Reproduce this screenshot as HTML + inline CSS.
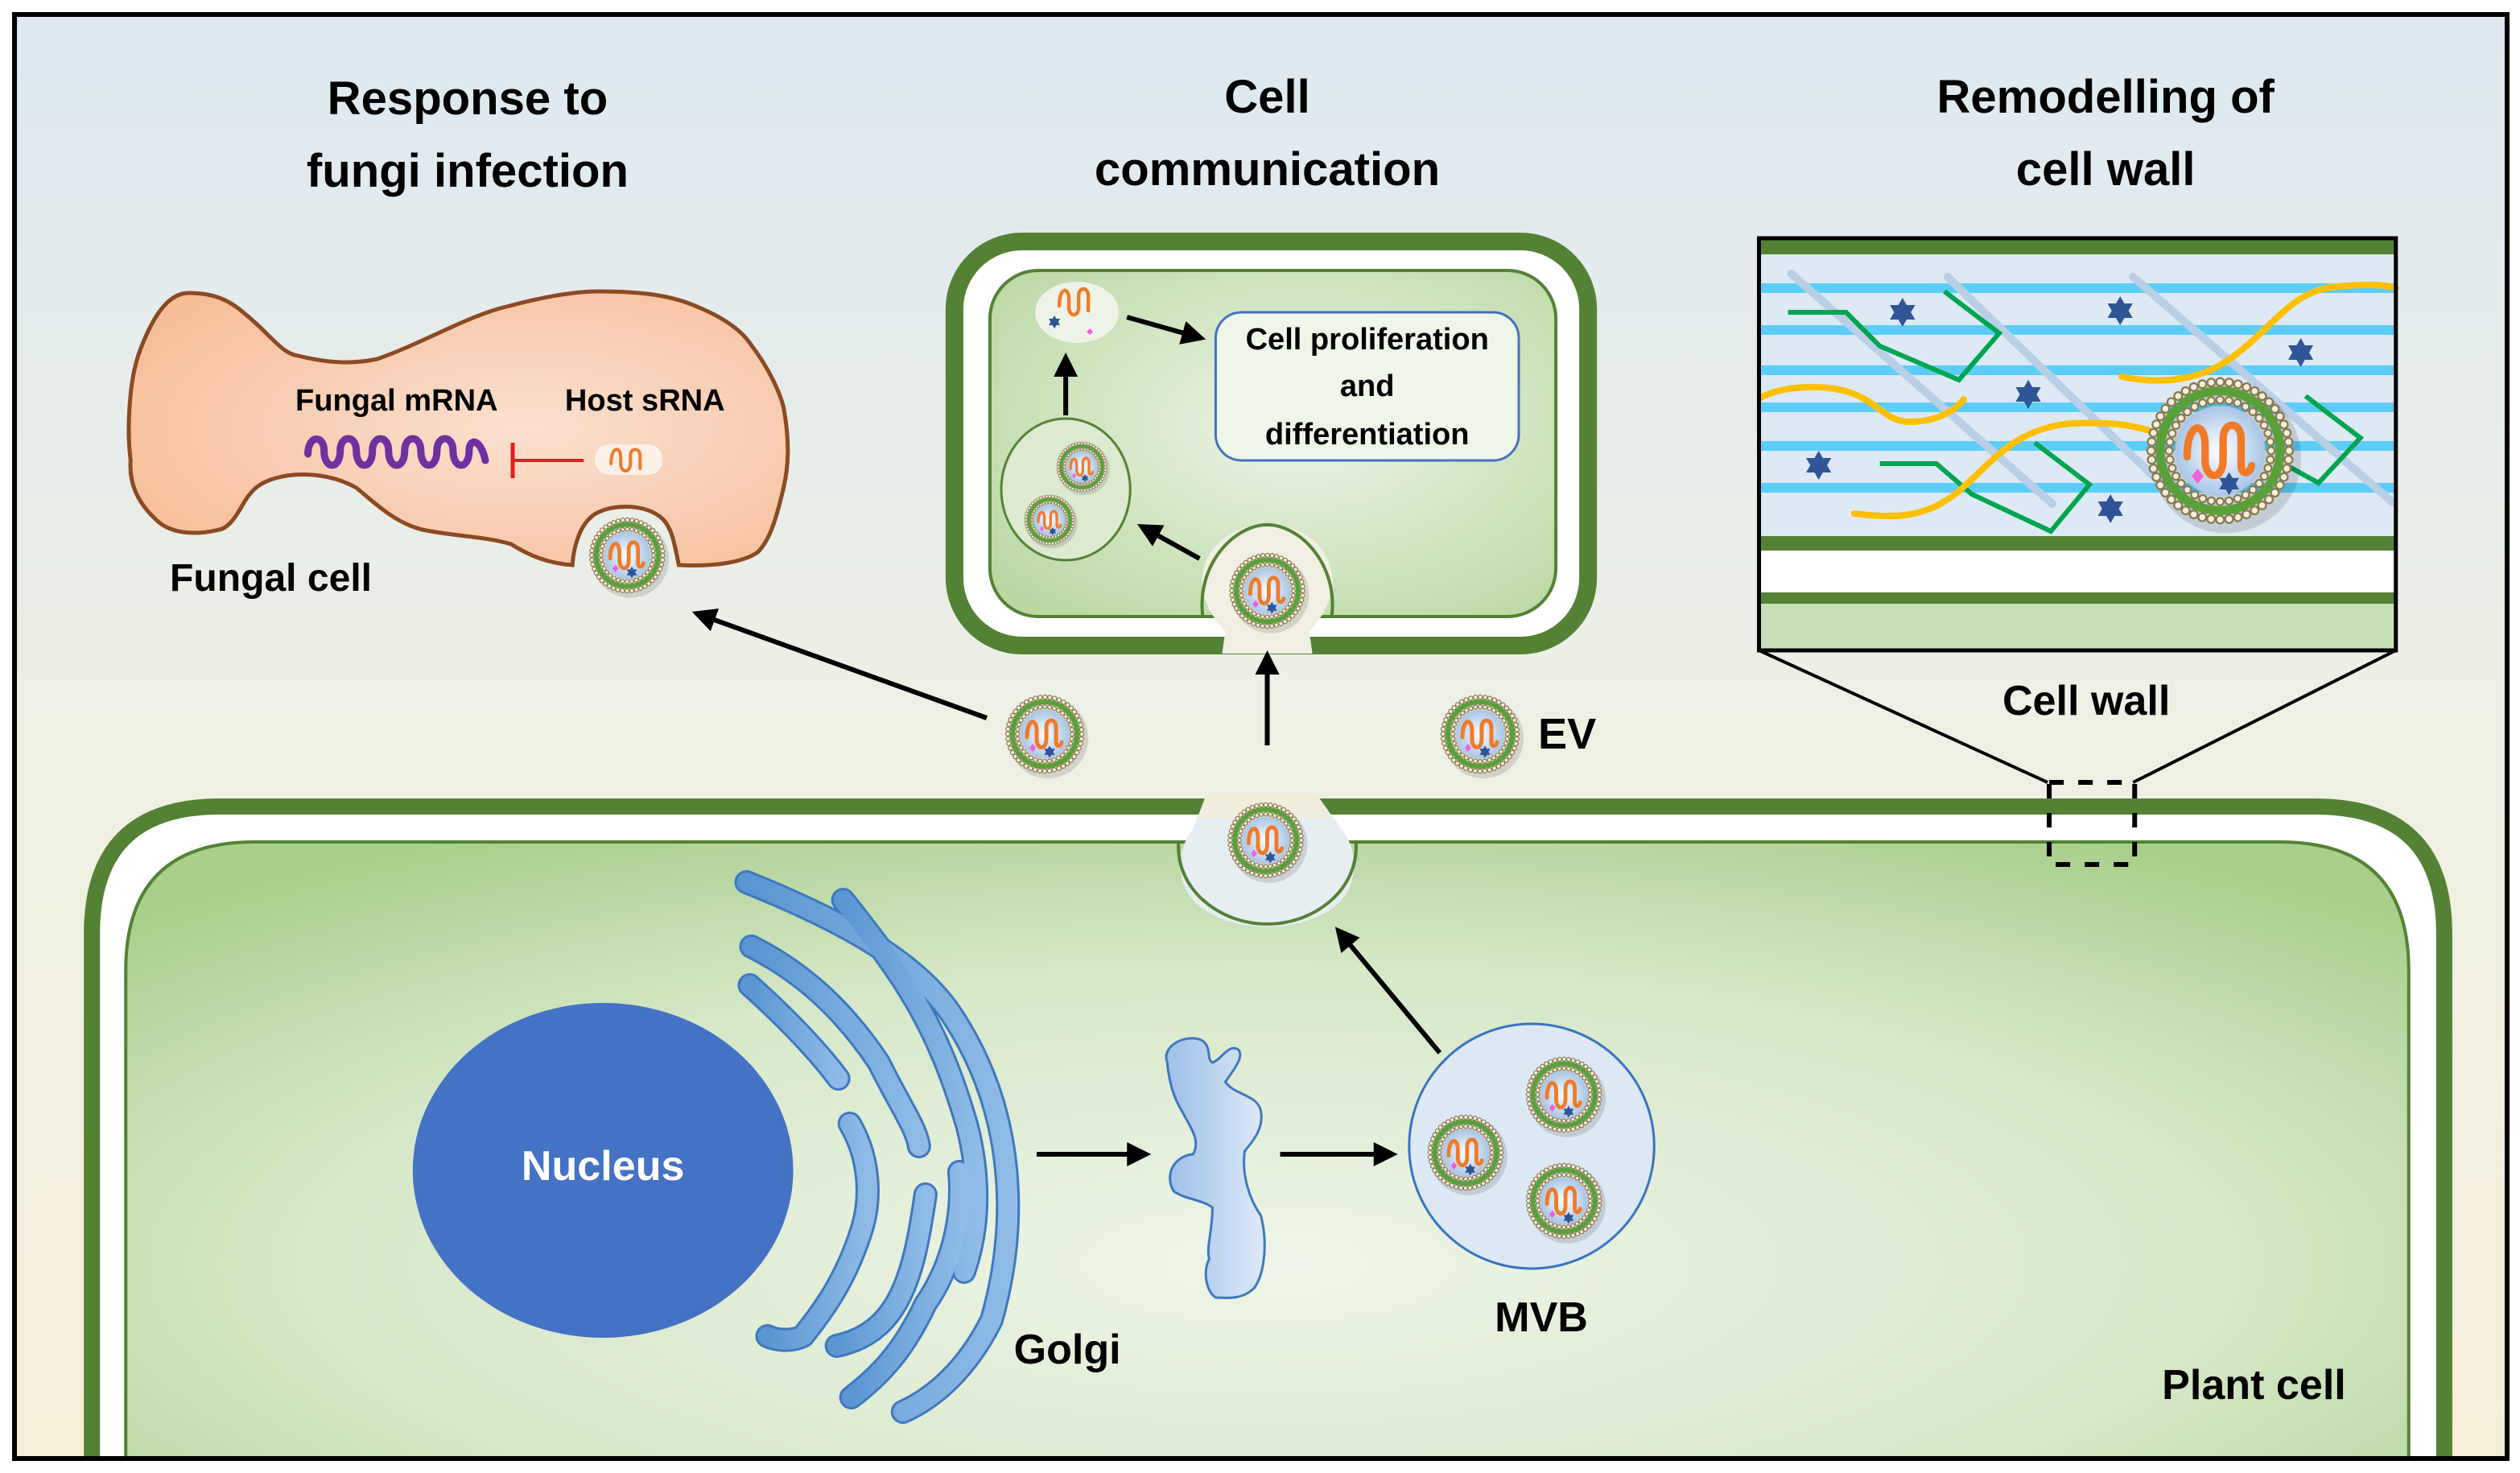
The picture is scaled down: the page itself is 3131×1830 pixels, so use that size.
<!DOCTYPE html>
<html><head><meta charset="utf-8"><style>
html,body{margin:0;padding:0;background:#fff}
svg{display:block}
text{font-family:"Liberation Sans",sans-serif;font-weight:bold;fill:#000}
</style></head><body>
<svg width="3131" height="1830" viewBox="0 0 1563 915" preserveAspectRatio="none" xmlns="http://www.w3.org/2000/svg">
<defs>
<linearGradient id="bg" x1="0" y1="0" x2="0" y2="1">
<stop offset="0" stop-color="#dde8f2"/><stop offset="0.5" stop-color="#eef0e4"/><stop offset="1" stop-color="#f6efd8"/></linearGradient>
<radialGradient id="cellg" cx="0.5" cy="0.6" r="0.7">
<stop offset="0" stop-color="#eef5e8"/><stop offset="0.6" stop-color="#d6e8c8"/><stop offset="1" stop-color="#a8cf8c"/></radialGradient>
<radialGradient id="commg" cx="0.55" cy="0.45" r="0.7">
<stop offset="0" stop-color="#eef5e8"/><stop offset="1" stop-color="#b9d8a2"/></radialGradient>
<radialGradient id="fung" cx="0.6" cy="0.5" r="0.7">
<stop offset="0" stop-color="#fbe0cf"/><stop offset="1" stop-color="#f5bd98"/></radialGradient>
<radialGradient id="evin" cx="0.5" cy="0.5" r="0.5">
<stop offset="0" stop-color="#ffffff"/><stop offset="1" stop-color="#a9c6e6"/></radialGradient>
<linearGradient id="golg" x1="0" y1="0" x2="1" y2="0">
<stop offset="0" stop-color="#5b95d2"/><stop offset="1" stop-color="#8fbbe6"/></linearGradient>
<linearGradient id="vesg" x1="0" y1="0" x2="1" y2="0">
<stop offset="0" stop-color="#9cc0e8"/><stop offset="1" stop-color="#dde9f7"/></linearGradient>
<g id="star"><polygon points="0,-9 2.6,-4.5 7.8,-4.5 5.2,0 7.8,4.5 2.6,4.5 0,9 -2.6,4.5 -7.8,4.5 -5.2,0 -7.8,-4.5 -2.6,-4.5" fill="#2f5597"/></g>
<g id="ev">
<circle r="50" fill="#000" opacity="0.12" cx="4" cy="5"/>
<circle r="46" fill="none" stroke="#8a7a52" stroke-width="6.5" stroke-dasharray="0 6.02" stroke-linecap="round"/>
<circle r="46" fill="none" stroke="#f5efda" stroke-width="4" stroke-dasharray="0 6.02" stroke-linecap="round"/>
<circle r="40" fill="none" stroke="#5aa03a" stroke-width="6"/>
<circle r="34" fill="none" stroke="#8a7a52" stroke-width="6" stroke-dasharray="0 5.93" stroke-linecap="round"/>
<circle r="34" fill="none" stroke="#f5efda" stroke-width="3.6" stroke-dasharray="0 5.93" stroke-linecap="round"/>
<circle r="30" fill="url(#evin)"/>
<path d="M-22 4 C-22 -20 -10 -20 -10 -4 L-10 6 C-10 20 2 20 2 6 L2 -8 C2 -20 14 -20 14 -8 L14 10 C14 16 20 16 21 10" fill="none" stroke="#f07a28" stroke-width="5" stroke-linecap="round"/>
<polygon points="-15,12 -11,17 -15,22 -19,17" fill="#f060e0"/>
<use href="#star" transform="translate(6,22) scale(0.85)"/>
</g>
<marker id="ah" viewBox="0 0 10 10" refX="8" refY="5" markerWidth="5" markerHeight="5" orient="auto-start-reverse" markerUnits="strokeWidth">
<path d="M0 0 L10 5 L0 10 z" fill="#000"/></marker>
</defs>

<rect x="0" y="0" width="1563" height="915" fill="#fff"/>
<rect x="9" y="9" width="1546" height="897" fill="url(#bg)" stroke="#000" stroke-width="3"/>

<g font-size="29" text-anchor="middle">
<text x="290" y="71">Response to</text><text x="290" y="116">fungi infection</text>
<text x="786" y="70">Cell</text><text x="786" y="115">communication</text>
<text x="1306" y="70">Remodelling of</text><text x="1306" y="115">cell wall</text>
</g>

<path d="M86 220 C95 195 105 182 117 182 C132 182 142 186 152 195 C168 208 175 220 185 221 C205 226 220 226 234 223 C265 212 290 196 316 190 C335 185 355 181 371 181 C395 181 412 183 426 188 C445 195 458 203 465 213 C478 230 484 245 486 253 C490 275 489 290 486 303 C482 320 478 335 470 343 C460 350 440 352 421 351 C418 335 416 325 408 320 C398 313 378 313 368 320 C360 326 356 338 355 351 C340 350 328 345 317 338 C300 333 280 333 262 329 C245 325 232 312 221 303 C205 294 185 293 171 297 C160 300 156 305 152 311 C147 320 142 328 136 329 C120 333 105 331 97 323 C85 312 80 300 81 286 C79 270 80 255 81 245 C82 235 84 226 86 220 Z" fill="url(#fung)" stroke="#8c4a22" stroke-width="2.5"/>
<g font-size="19"><text x="246" y="255" text-anchor="middle">Fungal mRNA</text><text x="400" y="255" text-anchor="middle">Host sRNA</text></g>
<path d="M191 282 C191 270 201 270 201 280 C201 292 211 292 211 280 C211 270 221 270 221 280 C221 292 231 292 231 280 C231 270 241 270 241 280 C241 292 251 292 251 280 C251 270 261 270 261 280 C261 292 271 292 271 280 C271 270 281 270 281 280 C281 292 291 292 291 280 C291 272 298 272 301 286" fill="none" stroke="#7030a0" stroke-width="4.5" stroke-linecap="round"/>
<line x1="318" y1="286" x2="362" y2="286" stroke="#e81c1c" stroke-width="2"/>
<line x1="318" y1="275" x2="318" y2="297" stroke="#e81c1c" stroke-width="2.5"/>
<rect x="369" y="276" width="42" height="19" rx="9" fill="#fdf0e6"/>
<path d="M379 288 C379 277 385 277 385 284 L385 288 C385 294 391 294 391 288 L391 283 C391 278 397 278 397 283 L397 291" fill="none" stroke="#f07a28" stroke-width="2" stroke-linecap="round"/>
<use href="#ev" transform="translate(389,345) scale(0.48)"/>
<text x="168" y="367" font-size="24" text-anchor="middle">Fungal cell</text>

<rect x="592" y="150" width="393" height="251" rx="42" fill="#fff" stroke="#548235" stroke-width="11"/>
<rect x="614" y="168" width="351" height="215" rx="30" fill="url(#commg)" stroke="#548235" stroke-width="2"/>
<path d="M758 406 L760 392 C748 380 744 366 746 356 C750 336 766 326 786 326 C806 326 822 336 826 356 C828 366 824 380 812 392 L814 406 Z" fill="#f1efe1"/>
<path d="M746 383 C742 350 766 326 786 326 C806 326 830 350 826 383" fill="none" stroke="#548235" stroke-width="2"/>
<use href="#ev" transform="translate(786,367) scale(0.48)"/>
<ellipse cx="668" cy="194" rx="26" ry="19" fill="#edf3e6"/>
<path d="M657 190 C657 178 663 178 663 186 L663 191 C663 197 669 197 669 191 L669 184 C669 178 675 178 675 184 L675 193" fill="none" stroke="#f07a28" stroke-width="2.2" stroke-linecap="round"/>
<use href="#star" transform="translate(654,200) scale(0.45)"/>
<polygon points="676,204 678,206 676,208 674,206" fill="#f060e0"/>
<ellipse cx="661" cy="304" rx="40" ry="44" fill="#dcead0" stroke="#548235" stroke-width="1.5"/>
<use href="#ev" transform="translate(671,290) scale(0.32)"/>
<use href="#ev" transform="translate(651,323) scale(0.32)"/>
<rect x="754" y="194" width="188" height="92" rx="16" fill="#f0f5ea" stroke="#4472c4" stroke-width="1.5"/>
<g font-size="19" text-anchor="middle"><text x="848" y="217">Cell proliferation</text><text x="848" y="246">and</text><text x="848" y="276">differentiation</text></g>
<line x1="661" y1="258" x2="661" y2="222" stroke="#000" stroke-width="3" marker-end="url(#ah)"/>
<line x1="699" y1="197" x2="745" y2="210" stroke="#000" stroke-width="3" marker-end="url(#ah)"/>
<line x1="744" y1="347" x2="708" y2="327" stroke="#000" stroke-width="3" marker-end="url(#ah)"/>

<line x1="786" y1="463" x2="786" y2="407" stroke="#000" stroke-width="3" marker-end="url(#ah)"/>
<line x1="612" y1="446" x2="432" y2="381" stroke="#000" stroke-width="3" marker-end="url(#ah)"/>
<use href="#ev" transform="translate(648,456) scale(0.5)"/>
<use href="#ev" transform="translate(918,456) scale(0.5)"/>
<text x="954" y="465" font-size="27">EV</text>

<path d="M57 960 L57 580 Q57 501 136 501 L1436 501 Q1516 501 1516 580 L1516 960" fill="#fff" stroke="#548235" stroke-width="10"/>
<path d="M78 960 L78 603 Q78 523 158 523 L1414 523 Q1494 523 1494 603 L1494 960 Z" fill="url(#cellg)" stroke="#548235" stroke-width="2"/>
<rect x="9" y="906" width="1546" height="12" fill="#fff"/>
<line x1="9" y1="906" x2="1555" y2="906" stroke="#000" stroke-width="3"/>
<path d="M748 494 L817 494 L832 515 C844 530 842 552 828 563 C806 580 766 580 744 563 C730 552 728 530 740 515 Z" fill="#e6eef2"/>
<path d="M748 494 L817 494 L826 508 L744 508 Z" fill="#f1eedc"/>
<path d="M731 523 C729 552 756 574 786 574 C816 574 843 552 841 523" fill="none" stroke="#548235" stroke-width="2"/>
<use href="#ev" transform="translate(785,522) scale(0.48)"/>

<ellipse cx="374" cy="727" rx="118" ry="104" fill="#4472c4"/>
<text x="374" y="733" font-size="26" text-anchor="middle" style="fill:#fff">Nucleus</text>

<g fill="none" stroke-linecap="round" stroke-linejoin="round">
<g stroke="#3f78c0" stroke-width="15">
<path d="M463 548 C530 575 570 600 590 630 C630 690 632 760 615 820 C600 850 580 868 560 877"/>
<path d="M523 559 C555 600 580 630 600 700 C610 740 605 770 598 790"/>
<path d="M466 588 C500 605 525 630 545 660 C560 690 568 700 570 712"/>
<path d="M465 612 C485 630 505 650 520 670"/>
<path d="M527 698 C540 720 540 745 535 762 C525 795 510 815 498 830 C490 834 480 832 476 830"/>
<path d="M595 728 C598 760 588 790 574 810 C560 840 545 855 528 868"/>
<path d="M574 742 C570 770 565 800 550 818 C540 830 528 834 519 836"/>
</g>
<g stroke="url(#golg)" stroke-width="12">
<path d="M463 548 C530 575 570 600 590 630 C630 690 632 760 615 820 C600 850 580 868 560 877"/>
<path d="M523 559 C555 600 580 630 600 700 C610 740 605 770 598 790"/>
<path d="M466 588 C500 605 525 630 545 660 C560 690 568 700 570 712"/>
<path d="M465 612 C485 630 505 650 520 670"/>
<path d="M527 698 C540 720 540 745 535 762 C525 795 510 815 498 830 C490 834 480 832 476 830"/>
<path d="M595 728 C598 760 588 790 574 810 C560 840 545 855 528 868"/>
<path d="M574 742 C570 770 565 800 550 818 C540 830 528 834 519 836"/>
</g>
</g>
<text x="662" y="847" font-size="26" text-anchor="middle">Golgi</text>
<line x1="643" y1="717" x2="711" y2="717" stroke="#000" stroke-width="3" marker-end="url(#ah)"/>
<path d="M724 660 C720 650 735 642 745 646 C752 650 748 658 752 660 C758 658 762 648 768 652 C772 656 765 665 760 672 C765 680 780 680 782 690 C784 700 778 708 772 715 C770 730 775 745 782 755 C786 770 785 790 778 800 C770 808 760 806 754 806 C748 802 746 790 750 782 C748 775 752 765 752 750 C745 745 735 745 728 740 C722 730 728 718 740 717 C745 708 738 700 733 690 C728 682 725 672 724 660 Z" fill="url(#vesg)" stroke="#3f78c0" stroke-width="1.5"/>
<line x1="794" y1="717" x2="864" y2="717" stroke="#000" stroke-width="3" marker-end="url(#ah)"/>

<circle cx="950" cy="712" r="76" fill="#dce8f4" stroke="#3a74c0" stroke-width="1.5"/>
<use href="#ev" transform="translate(970,680) scale(0.48)"/>
<use href="#ev" transform="translate(909,716) scale(0.48)"/>
<use href="#ev" transform="translate(970,746) scale(0.48)"/>
<text x="956" y="827" font-size="26" text-anchor="middle">MVB</text>
<line x1="893" y1="654" x2="830" y2="578" stroke="#000" stroke-width="3" marker-end="url(#ah)"/>
<text x="1398" y="869" font-size="26" text-anchor="middle">Plant cell</text>

<line x1="1091" y1="404" x2="1270" y2="486" stroke="#000" stroke-width="2"/>
<line x1="1486" y1="404" x2="1323" y2="486" stroke="#000" stroke-width="2"/>
<rect x="1271" y="486" width="53" height="51" fill="none" stroke="#000" stroke-width="3" stroke-dasharray="9 9"/>
<text x="1294" y="444" font-size="26" text-anchor="middle">Cell wall</text>
<rect x="1091" y="148" width="395" height="256" fill="#c5e0b4"/>
<rect x="1091" y="148" width="395" height="10" fill="#548235"/>
<rect x="1091" y="158" width="395" height="175" fill="#dde9f4"/>
<g fill="#5bcdf8">
<rect x="1091" y="176" width="395" height="6"/><rect x="1091" y="202" width="395" height="6"/>
<rect x="1091" y="227" width="395" height="6"/><rect x="1091" y="250" width="395" height="6"/>
<rect x="1091" y="274" width="395" height="6"/><rect x="1091" y="300" width="395" height="6"/>
</g>
<rect x="1091" y="333" width="395" height="9" fill="#548235"/>
<rect x="1091" y="342" width="395" height="26" fill="#fff"/>
<rect x="1091" y="368" width="395" height="7" fill="#548235"/>
<g stroke="#b8cfe6" stroke-width="5" stroke-linecap="round">
<line x1="1111" y1="170" x2="1273" y2="313"/>
<line x1="1208" y1="172" x2="1340" y2="300"/>
<line x1="1323" y1="172" x2="1484" y2="312"/>
</g>
<g fill="none" stroke="#00a550" stroke-width="3">
<polyline points="1109,194 1145,194 1166,215 1215,236 1240,207 1206,181"/>
<polyline points="1166,288 1201,288 1223,307 1272,330 1296,301 1262,275"/>
<polyline points="1430,246 1464,272 1438,300 1420,290"/>
</g>
<g fill="none" stroke="#ffc000" stroke-width="4" stroke-linecap="round">
<path d="M1092 247 C1105 240 1130 238 1148 244 C1165 250 1170 262 1184 262 C1200 262 1212 256 1218 248"/>
<path d="M1150 319 C1175 322 1195 322 1215 305 C1235 288 1250 265 1286 263 C1310 262 1325 264 1340 270"/>
<path d="M1316 234 C1335 238 1360 238 1380 225 C1410 205 1420 180 1450 178 C1470 176 1480 177 1486 179"/>
</g>
<use href="#star" transform="translate(1180,194)"/>
<use href="#star" transform="translate(1315,193)"/>
<use href="#star" transform="translate(1427,219)"/>
<use href="#star" transform="translate(1258,245)"/>
<use href="#star" transform="translate(1128,289)"/>
<use href="#star" transform="translate(1309,316)"/>
<use href="#ev" transform="translate(1377,280) scale(0.93)"/>
<rect x="1091" y="148" width="395" height="256" fill="none" stroke="#000" stroke-width="2.5"/>
</svg>
</body></html>
